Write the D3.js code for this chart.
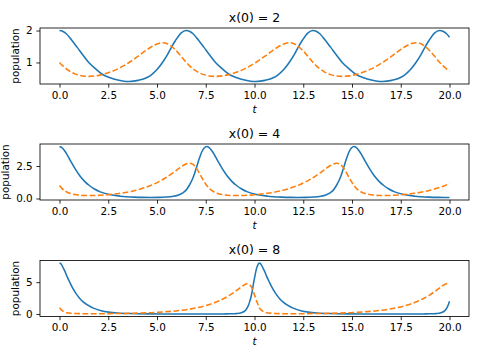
<!DOCTYPE html>
<html><head><meta charset="utf-8">
<script src="https://cdn.jsdelivr.net/npm/d3@7"></script>
<style>body{margin:0;background:#fff} svg{display:block} text{font-family:"DejaVu Sans",sans-serif}</style>
</head><body><svg id="c" width="480" height="360"></svg>
<script>
const titles = ["x(0) = 2", "x(0) = 4", "x(0) = 8"];
const xTicks = [0, 2.5, 5, 7.5, 10, 12.5, 15, 17.5, 20];
const yTicks1 = [1, 2], yTicks2 = [0, 2.5], yTicks3 = [0, 5];
const yLabel = "population", xLabel = "t";

// panel 1: x(0)=2
const t1 = [0,0.16,0.35,0.6,0.9,1.18,1.5,1.85,2.17,2.6,2.99,3.3,3.57,4.04,4.49,4.74,5.0,5.28,5.56,5.76,5.94,6.23,
6.5,6.66,6.85,7.1,7.4,7.68,8.0,8.35,8.67,9.1,9.49,9.8,10.07,10.54,10.99,11.24,11.5,11.78,12.06,12.26,12.44,12.73,
13.0,13.16,13.35,13.6,13.9,14.18,14.5,14.85,15.17,15.6,15.99,16.3,16.57,17.04,17.49,17.74,18.0,18.28,18.56,18.76,18.94,19.23,
19.5,19.66,19.85,20.0];
const x1 = [2.0,1.98,1.9,1.72,1.48,1.25,1.0,0.8,0.64,0.52,0.45,0.414,0.406,0.44,0.53,0.63,0.78,1.0,1.27,1.5,1.68,1.92,
2.0,1.98,1.9,1.72,1.48,1.25,1.0,0.8,0.64,0.52,0.45,0.414,0.406,0.44,0.53,0.63,0.78,1.0,1.27,1.5,1.68,1.92,
2.0,1.98,1.9,1.72,1.48,1.25,1.0,0.8,0.64,0.52,0.45,0.414,0.406,0.44,0.53,0.63,0.78,1.0,1.27,1.5,1.68,1.92,
2.0,1.98,1.9,1.79];
const y1 = [1.0,0.9,0.8,0.7,0.62,0.58,0.565,0.58,0.62,0.7,0.8,0.9,1.0,1.2,1.4,1.5,1.58,1.62,1.58,1.5,1.4,1.2,
1.0,0.9,0.8,0.7,0.62,0.58,0.565,0.58,0.62,0.7,0.8,0.9,1.0,1.2,1.4,1.5,1.58,1.62,1.58,1.5,1.4,1.2,
1.0,0.9,0.8,0.7,0.62,0.58,0.565,0.58,0.62,0.7,0.8,0.9,1.0,1.2,1.4,1.5,1.58,1.62,1.58,1.5,1.4,1.2,
1.0,0.9,0.8,0.74];

// panel 2: x(0)=4
const t2 = [0,0.11,0.27,0.38,0.53,0.79,1.05,1.3,1.53,1.77,2.09,2.55,3.12,3.83,4.3,4.67,5.1,5.45,5.84,6.11,6.3,6.48,6.65,6.82,6.94,7.04,7.16,7.3,7.42,
7.55,7.66,7.82,7.93,8.08,8.34,8.6,8.85,9.08,9.32,9.64,10.1,10.67,11.38,11.85,12.22,12.65,13.0,13.39,13.66,13.85,14.03,14.2,14.37,14.49,14.59,14.71,14.85,14.97,
15.1,15.21,15.37,15.48,15.63,15.89,16.15,16.4,16.63,16.87,17.19,17.65,18.22,18.93,19.4,19.77,20.0];
const x2 = [4.0,3.93,3.66,3.4,3.0,2.32,1.73,1.3,1.0,0.75,0.51,0.31,0.18,0.105,0.084,0.08,0.087,0.109,0.173,0.275,0.41,0.625,1.0,1.5,1.99,2.47,3.035,3.6,3.89,
4.0,3.93,3.66,3.4,3.0,2.32,1.73,1.3,1.0,0.75,0.51,0.31,0.18,0.105,0.084,0.08,0.087,0.109,0.173,0.275,0.41,0.625,1.0,1.5,1.99,2.47,3.035,3.6,3.89,
4.0,3.93,3.66,3.4,3.0,2.32,1.73,1.3,1.0,0.75,0.51,0.31,0.18,0.105,0.084,0.08,0.082];
const y2 = [1.0,0.8,0.6,0.5,0.4,0.3,0.25,0.23,0.225,0.23,0.25,0.3,0.4,0.6,0.8,1.0,1.3,1.6,2.0,2.3,2.5,2.65,2.72,2.65,2.5,2.3,2.0,1.6,1.3,
1.0,0.8,0.6,0.5,0.4,0.3,0.25,0.23,0.225,0.23,0.25,0.3,0.4,0.6,0.8,1.0,1.3,1.6,2.0,2.3,2.5,2.65,2.72,2.65,2.5,2.3,2.0,1.6,1.3,
1.0,0.8,0.6,0.5,0.4,0.3,0.25,0.23,0.225,0.23,0.25,0.3,0.4,0.6,0.8,1.0,1.15];

// panel 3: x(0)=8
const t3 = [0,0.05,0.11,0.2,0.28,0.39,0.49,0.65,0.85,1.05,1.23,1.68,2.18,2.51,2.97,3.57,4.66,5.35,6.04,6.6,7.09,7.6,8.13,8.45,8.75,8.99,9.21,9.39,9.49,9.56,9.63,9.7,9.75,9.81,9.88,9.94,10.0,10.11,10.18,
10.24,10.29,10.35,10.44,10.52,10.63,10.73,10.89,11.09,11.29,11.47,11.92,12.42,12.75,13.21,13.81,14.9,15.59,16.28,16.84,17.33,17.84,18.37,18.69,18.99,19.23,19.45,19.63,19.73,19.8,19.87,19.94,20.0];
const x3 = [8.0,7.94,7.71,7.18,6.69,5.87,5.22,4.2,3.19,2.4,1.85,1.0,0.47,0.29,0.15,0.067,0.017,0.008,0.004,0.003,0.003,0.003,0.005,0.01,0.021,0.047,0.113,0.26,0.445,0.65,1.0,1.44,1.9,2.54,3.56,4.65,5.62,7.2,7.76,
8.0,7.94,7.71,7.18,6.69,5.87,5.22,4.2,3.19,2.4,1.85,1.0,0.47,0.29,0.15,0.067,0.017,0.008,0.004,0.003,0.003,0.003,0.005,0.01,0.021,0.047,0.113,0.26,0.445,0.65,1.0,1.44,2.0];
const y3 = [1.0,0.8,0.6,0.4,0.3,0.2,0.15,0.1,0.07,0.055,0.048,0.043,0.048,0.055,0.07,0.1,0.2,0.32,0.5,0.72,1.0,1.4,2.0,2.47,3.0,3.5,4.0,4.4,4.6,4.7,4.745,4.7,4.6,4.4,4.0,3.5,3.0,2.0,1.5,
1.0,0.8,0.6,0.4,0.3,0.2,0.15,0.1,0.07,0.055,0.048,0.043,0.048,0.055,0.07,0.1,0.2,0.32,0.5,0.72,1.0,1.4,2.0,2.47,3.0,3.5,4.0,4.4,4.6,4.7,4.745,4.7,4.6];

const panels = [
  {title: titles[0], t: t1, x: x1, y: y1, ticks: yTicks1, fmt: d3.format("d")},
  {title: titles[1], t: t2, x: x2, y: y2, ticks: yTicks2, fmt: d3.format(".1f")},
  {title: titles[2], t: t3, x: x3, y: y3, ticks: yTicks3, fmt: d3.format("d")}
];

const svg = d3.select("#c");
const L = 40, R = 469, panelTop = [28, 144, 260.5], PH = 56;
const FS = 10.4, TL = 3.65;
const xs = d3.scaleLinear().domain([-1, 21]).range([L, R]);

panels.forEach((p, i) => {
  const top = panelTop[i], bottom = top + PH;
  const [mn, mx] = d3.extent(p.x.concat(p.y));
  const pad = (mx - mn) * 0.05;
  const ys = d3.scaleLinear().domain([mn - pad, mx + pad]).range([bottom, top]);
  const g = svg.append("g");

  const line = d3.line().x((d, j) => xs(p.t[j])).y(d => ys(d)).curve(d3.curveMonotoneX);
  g.append("path").attr("d", line(p.x)).attr("fill", "none")
    .attr("stroke", "#1f77b4").attr("stroke-width", 1.56).attr("stroke-linecap", "butt");
  g.append("path").attr("d", line(p.y)).attr("fill", "none")
    .attr("stroke", "#ff7f0e").attr("stroke-width", 1.56).attr("stroke-dasharray", "5.78,2.5");

  const xa = g.append("g").attr("transform", `translate(0,${bottom})`)
    .call(d3.axisBottom(xs).tickValues(xTicks).tickFormat(d3.format(".1f"))
      .tickSize(TL).tickSizeOuter(0).tickPadding(3.65));
  const ya = g.append("g").attr("transform", `translate(${L},0)`)
    .call(d3.axisLeft(ys).tickValues(p.ticks).tickFormat(p.fmt)
      .tickSize(TL).tickSizeOuter(0).tickPadding(3.65));
  [xa, ya].forEach(a => {
    a.select(".domain").remove();
    a.selectAll("line").attr("stroke", "#000").attr("stroke-width", 0.83);
    a.selectAll("text").attr("font-size", FS).attr("fill", "#000")
      .attr("font-family", "DejaVu Sans");
  });

  g.append("rect").attr("x", L).attr("y", top).attr("width", R - L).attr("height", PH)
    .attr("fill", "none").attr("stroke", "#000").attr("stroke-width", 0.83);

  g.append("text").attr("x", (L + R) / 2).attr("y", top - 6.25)
    .attr("text-anchor", "middle").attr("font-size", 12.5).attr("fill", "#000").text(p.title);

  g.append("text").attr("x", (L + R) / 2).attr("y", bottom + 28.5)
    .attr("text-anchor", "middle").attr("font-size", FS).attr("font-style", "italic")
    .attr("fill", "#000").text(xLabel);

  let maxW = 0;
  ya.selectAll("text").each(function () { maxW = Math.max(maxW, this.getBBox().width); });
  const rightEdge = L - TL - 3.65 - maxW - 4.17;
  const bx = rightEdge - 2.5;
  g.append("text").attr("transform", `translate(${bx},${(top + bottom) / 2}) rotate(-90)`)
    .attr("text-anchor", "middle").attr("font-size", FS).attr("fill", "#000").text(yLabel);
});
</script>
</body></html>
